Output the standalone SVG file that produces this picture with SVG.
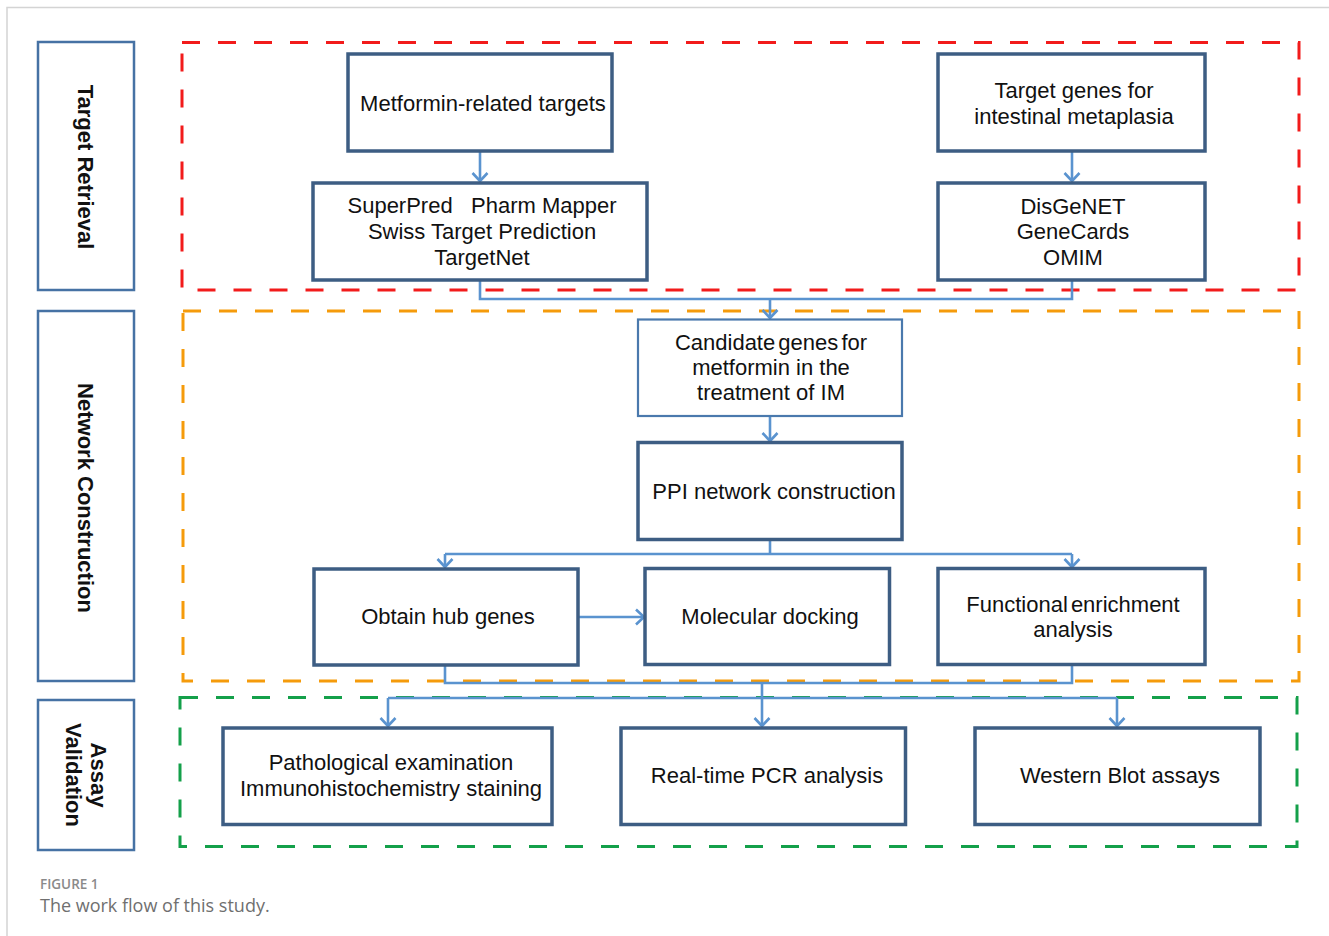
<svg xmlns="http://www.w3.org/2000/svg" width="1329" height="936" viewBox="0 0 1329 936">
<defs>
<style>
.frame{fill:none;stroke:#d4d4d4;stroke-width:1.5}
.side{fill:#fff;stroke:#4672a4;stroke-width:2.5}
.sidet{font-family:"Liberation Sans",Arial,sans-serif;font-weight:bold;font-size:22px;fill:#111;text-anchor:middle}
.zone{fill:none;stroke-width:3;stroke-dasharray:18 18}
.box{fill:#fff;stroke:#3d5d83;stroke-width:3.5}
.thin{fill:#fff;stroke:#4a79ad;stroke-width:2.2}
.t{font-family:"Liberation Sans",Arial,sans-serif;font-size:22px;fill:#111;text-anchor:middle;white-space:pre}
.c{fill:none;stroke:#5a93cf;stroke-width:2.6}
.a{marker-end:url(#ah)}
.cap1{font-family:"Open Sans","Noto Sans",sans-serif;font-size:13.5px;font-weight:600;fill:#8a8a8a}
.cap2{font-family:"Open Sans","Noto Sans",sans-serif;font-size:18px;fill:#6f6f6f}
</style>
<marker id="ah" markerUnits="userSpaceOnUse" markerWidth="20" markerHeight="20" refX="10" refY="10" orient="auto" viewBox="0 0 20 20">
<path d="M2,2.5 L10,10 L2,17.5" fill="none" stroke="#5a93cf" stroke-width="2.6"/>
</marker>
</defs>
<rect width="1329" height="936" fill="#fff"/>
<path class="frame" d="M7,936 V7.5 H1329"/>

<g id="label-target-retrieval">
<rect class="side" x="38" y="42" width="96" height="248"/>
<text class="sidet" transform="translate(86,167) rotate(90)" y="8">Target Retrieval</text>
</g>
<g id="label-network-construction">
<rect class="side" x="38" y="311" width="96" height="370"/>
<text class="sidet" transform="translate(86,498) rotate(90)" y="8">Network Construction</text>
</g>
<g id="label-assay-validation">
<rect class="side" x="38" y="700" width="96" height="150"/>
<text class="sidet" transform="translate(86,775) rotate(90)"><tspan x="0" y="-5">Assay</tspan><tspan x="0" y="20">Validation</tspan></text>
</g>

<g id="zones">
<rect class="zone" x="182" y="42.5" width="1117" height="247.5" stroke="#f21b1b"/>
<rect class="zone" x="183" y="311" width="1116" height="370" stroke="#f59b0b"/>
<rect class="zone" x="180" y="697.5" width="1117" height="149" stroke="#14a04a"/>
</g>

<g id="connectors">
<path class="c a" d="M480,151 V181"/>
<path class="c a" d="M1072,151 V181"/>
<path class="c" d="M480,281 V299 H1072 V281"/>
<path class="c a" d="M770,299 V318"/>
<path class="c a" d="M770,417 V441"/>
<path class="c" d="M770,541 V554"/>
<path class="c" d="M445,554 H1072"/>
<path class="c a" d="M445,554 V567"/>
<path class="c a" d="M1072,554 V567"/>
<path class="c a" d="M579,617 H644"/>
<path class="c" d="M445,666 V683 H1072 V666"/>
<path class="c" d="M762,683 V698"/>
<path class="c" d="M388,698 H1117"/>
<path class="c a" d="M388,698 V726"/>
<path class="c a" d="M762,698 V726"/>
<path class="c a" d="M1117,698 V726"/>
</g>

<g id="node-metformin">
<rect class="box" x="348" y="54" width="264" height="97"/>
<text class="t" x="483" y="110.5">Metformin-related targets</text>
</g>
<g id="node-superpred">
<rect class="box" x="313" y="183" width="334" height="97"/>
<text class="t"><tspan x="482" y="213">SuperPred   Pharm Mapper</tspan><tspan x="482" y="239">Swiss Target Prediction</tspan><tspan x="482" y="265">TargetNet</tspan></text>
</g>
<g id="node-target-genes">
<rect class="box" x="938" y="54" width="267" height="97"/>
<text class="t"><tspan x="1074" y="98">Target genes for</tspan><tspan x="1074" y="123.5">intestinal metaplasia</tspan></text>
</g>
<g id="node-disgenet">
<rect class="box" x="938" y="183" width="267" height="97"/>
<text class="t"><tspan x="1073" y="213.5">DisGeNET</tspan><tspan x="1073" y="239">GeneCards</tspan><tspan x="1073" y="264.5">OMIM</tspan></text>
</g>
<g id="node-candidate">
<rect class="thin" x="638" y="319.5" width="264" height="96.5"/>
<text class="t"><tspan x="771" y="350" word-spacing="-3">Candidate genes for</tspan><tspan x="771" y="375">metformin in the</tspan><tspan x="771" y="400">treatment of IM</tspan></text>
</g>
<g id="node-ppi">
<rect class="box" x="638" y="442.5" width="264" height="97"/>
<text class="t" x="774" y="498.5">PPI network construction</text>
</g>
<g id="node-hub">
<rect class="box" x="314" y="569" width="264" height="96"/>
<text class="t" x="448" y="623.5">Obtain hub genes</text>
</g>
<g id="node-docking">
<rect class="box" x="645" y="568.5" width="244.5" height="96"/>
<text class="t" x="770" y="623.5">Molecular docking</text>
</g>
<g id="node-enrichment">
<rect class="box" x="938" y="568.5" width="267" height="96"/>
<text class="t"><tspan x="1073" y="611.5" word-spacing="-3">Functional enrichment</tspan><tspan x="1073" y="637">analysis</tspan></text>
</g>
<g id="node-pathology">
<rect class="box" x="223" y="728" width="329" height="96.5"/>
<text class="t"><tspan x="391" y="770">Pathological examination</tspan><tspan x="391" y="796">Immunohistochemistry staining</tspan></text>
</g>
<g id="node-pcr">
<rect class="box" x="621" y="728" width="284.5" height="96.5"/>
<text class="t" x="767" y="783">Real-time PCR analysis</text>
</g>
<g id="node-western">
<rect class="box" x="975" y="728" width="285" height="96.5"/>
<text class="t" x="1120" y="783">Western Blot assays</text>
</g>

<g id="caption">
<text class="cap1" x="40" y="889">FIGURE 1</text>
<text class="cap2" x="40" y="912">The work flow of this study.</text>
</g>
</svg>
